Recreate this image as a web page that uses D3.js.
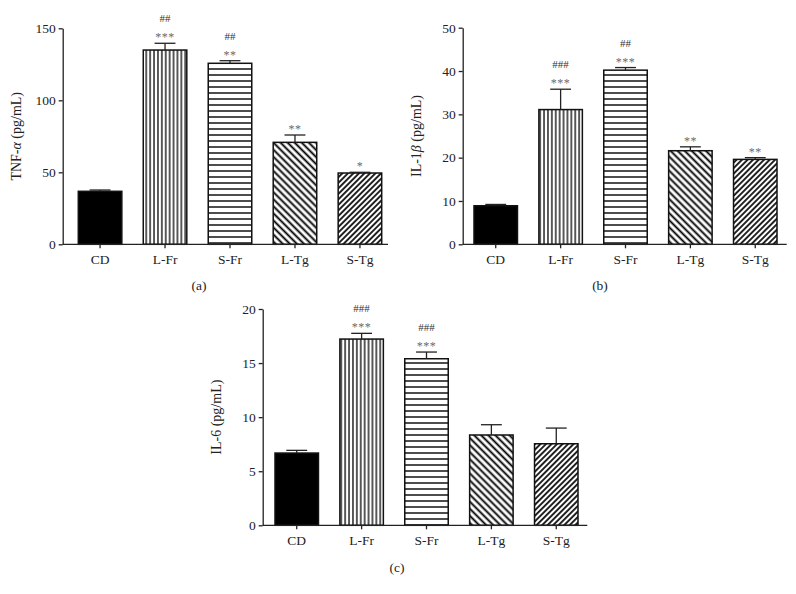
<!DOCTYPE html>
<html>
<head>
<meta charset="utf-8">
<script src="https://cdn.jsdelivr.net/npm/d3@7"></script>
<style>
  html, body { margin: 0; padding: 0; background: #fff; }
  svg { display: block; }
  text { font-family: "Liberation Serif", "Times New Roman", serif; }
</style>
</head>
<body>
<svg id="chart" width="796" height="594"></svg>
<script>
// ---------- data ----------
const categories = ["CD", "L-Fr", "S-Fr", "L-Tg", "S-Tg"];

const tnfMean = [36.8, 134.9, 125.7, 70.8, 49.5];
const tnfErr  = [0.9, 4.7, 1.8, 5.1, 0.5];
const tnfStars = ["", "***", "**", "**", "*"];
const tnfHash  = ["", "##", "##", "", ""];
const tnfTicks = [0, 50, 100, 150];

const il1bMean = [8.9, 31.1, 40.2, 21.6, 19.6];
const il1bErr  = [0.3, 4.7, 0.6, 0.9, 0.4];
const il1bStars = ["", "***", "***", "**", "**"];
const il1bHash  = ["", "###", "##", "", ""];
const il1bTicks = [0, 10, 20, 30, 40, 50];

const il6Mean = [6.68, 17.22, 15.4, 8.35, 7.54];
const il6Err  = [0.25, 0.53, 0.62, 0.95, 1.45];
const il6Stars = ["", "***", "***", "", ""];
const il6Hash  = ["", "###", "###", "", ""];
const il6Ticks = [0, 5, 10, 15, 20];

const fills = ["black", "url(#pVert)", "url(#pHoriz)", "url(#pBack)", "url(#pFwd)"];

// ---------- svg & patterns ----------
const svg = d3.select("#chart");
const defs = svg.append("defs");

function stripePattern(id, size, sw, rotate, vertical) {
  const p = defs.append("pattern")
    .attr("id", id)
    .attr("patternUnits", "userSpaceOnUse")
    .attr("width", size).attr("height", size);
  if (rotate !== null) p.attr("patternTransform", `rotate(${rotate})`);
  p.append("rect").attr("width", size).attr("height", size).attr("fill", "#fff");
  if (vertical) {
    p.append("line").attr("x1", size / 2).attr("x2", size / 2)
      .attr("y1", -1).attr("y2", size + 1)
      .attr("stroke", "#000").attr("stroke-width", sw);
  } else {
    p.append("line").attr("y1", size / 2).attr("y2", size / 2)
      .attr("x1", -1).attr("x2", size + 1)
      .attr("stroke", "#000").attr("stroke-width", sw);
  }
}
stripePattern("pVert", 3.9, 1.3, null, true);
stripePattern("pHoriz", 6, 1.4, null, false);
stripePattern("pBack", 5.0, 1.9, -45, true);
stripePattern("pFwd", 3.9, 1.7, 45, true);

// ---------- panel drawing ----------
function drawPanel(cfg) {
  const { mean, err, stars, hash, ticks, yMax, axisX, axisEnd, barL, barR,
          yBottom, yTop, yLabel, panelLabel, panelLabelX, panelLabelY, labelX } = cfg;

  const x = d3.scaleBand().domain(categories).range([barL, barR])
    .paddingInner(0.33).paddingOuter(0);
  const y = d3.scaleLinear().domain([0, yMax]).range([yBottom, yTop]);

  const g = svg.append("g");

  // bars
  g.selectAll("rect.bar").data(categories).enter().append("rect")
    .attr("class", "bar")
    .attr("x", d => x(d))
    .attr("y", (d, i) => y(mean[i]))
    .attr("width", x.bandwidth())
    .attr("height", (d, i) => y(0) - y(mean[i]))
    .attr("fill", (d, i) => fills[i])
    .attr("stroke", "#111")
    .attr("stroke-width", 1.5);

  // error bars
  const capW = x.bandwidth() * 0.48;
  categories.forEach((c, i) => {
    const cx = x(c) + x.bandwidth() / 2;
    g.append("line")
      .attr("x1", cx).attr("x2", cx)
      .attr("y1", y(mean[i])).attr("y2", y(mean[i] + err[i]))
      .attr("stroke", "#222").attr("stroke-width", 1.3);
    g.append("line")
      .attr("x1", cx - capW / 2).attr("x2", cx + capW / 2)
      .attr("y1", y(mean[i] + err[i])).attr("y2", y(mean[i] + err[i]))
      .attr("stroke", "#222").attr("stroke-width", 1.3);

    const starCenter = y(mean[i] + err[i]) - 9;
    if (stars[i]) {
      g.append("text")
        .attr("x", cx).attr("y", starCenter + 7)
        .attr("text-anchor", "middle")
        .attr("font-size", 12)
        .attr("fill", "#6a6a6a")
        .attr("letter-spacing", 0.5)
        .text(stars[i]);
    }
    if (hash[i]) {
      g.append("text")
        .attr("x", cx).attr("y", starCenter - 16 + 4)
        .attr("text-anchor", "middle")
        .attr("font-size", 11)
        .attr("fill", "#333")
        .text(hash[i]);
    }
  });

  // y axis
  const ya = g.append("g")
    .attr("transform", `translate(${axisX},0)`)
    .call(d3.axisLeft(y).tickValues(ticks).tickSize(4).tickSizeOuter(0).tickPadding(3));
  ya.select(".domain").attr("stroke", "#222").attr("stroke-width", 1.3);
  ya.selectAll(".tick line").attr("stroke", "#222").attr("stroke-width", 1.3);
  ya.selectAll(".tick text").attr("font-size", 13.5).attr("fill", "#222")
    .style("font-family", '"Liberation Serif", serif');

  // x axis
  const xa = g.append("g")
    .attr("transform", `translate(0,${yBottom})`)
    .call(d3.axisBottom(x).tickSize(4).tickSizeOuter(0).tickPadding(6));
  xa.select(".domain").remove();
  xa.selectAll(".tick line").attr("stroke", "#222").attr("stroke-width", 1.3);
  xa.selectAll(".tick text").attr("font-size", 13.5).attr("fill", "#222")
    .style("font-family", '"Liberation Serif", serif');
  g.append("line")
    .attr("x1", axisX).attr("x2", axisEnd)
    .attr("y1", yBottom).attr("y2", yBottom)
    .attr("stroke", "#222").attr("stroke-width", 1.3);

  // y label
  const lbl = g.append("text")
    .attr("transform", `translate(${labelX},${(yBottom + yTop) / 2}) rotate(-90)`)
    .attr("text-anchor", "middle")
    .attr("dy", "0.35em")
    .attr("font-size", 14)
    .attr("fill", "#222");
  yLabel.forEach(part => {
    lbl.append("tspan").attr("font-style", part.italic ? "italic" : "normal").text(part.t);
  });

  // panel label
  g.append("text")
    .attr("x", panelLabelX).attr("y", panelLabelY)
    .attr("text-anchor", "middle")
    .attr("dy", "0.35em")
    .attr("font-size", 13.5)
    .attr("fill", "#222")
    .text(panelLabel);
}

drawPanel({
  mean: tnfMean, err: tnfErr, stars: tnfStars, hash: tnfHash, ticks: tnfTicks, yMax: 150,
  axisX: 62.7, axisEnd: 388, barL: 78.3, barR: 381.7, yBottom: 244.3, yTop: 28.3,
  yLabel: [{ t: "TNF-" }, { t: "α", italic: true }, { t: " (pg/mL)" }],
  panelLabel: "(a)", panelLabelX: 199, panelLabelY: 285.5, labelX: 16
});

drawPanel({
  mean: il1bMean, err: il1bErr, stars: il1bStars, hash: il1bHash, ticks: il1bTicks, yMax: 50,
  axisX: 462.7, axisEnd: 786.7, barL: 474, barR: 777, yBottom: 244.3, yTop: 27.7,
  yLabel: [{ t: "IL-1" }, { t: "β", italic: true }, { t: " (pg/mL)" }],
  panelLabel: "(b)", panelLabelX: 600, panelLabelY: 285.5, labelX: 416
});

drawPanel({
  mean: il6Mean, err: il6Err, stars: il6Stars, hash: il6Hash, ticks: il6Ticks, yMax: 20,
  axisX: 262.7, axisEnd: 587.3, barL: 275, barR: 578, yBottom: 525.3, yTop: 309,
  yLabel: [{ t: "IL-6 (pg/mL)" }],
  panelLabel: "(c)", panelLabelX: 397, panelLabelY: 567, labelX: 216
});
</script>
</body>
</html>
